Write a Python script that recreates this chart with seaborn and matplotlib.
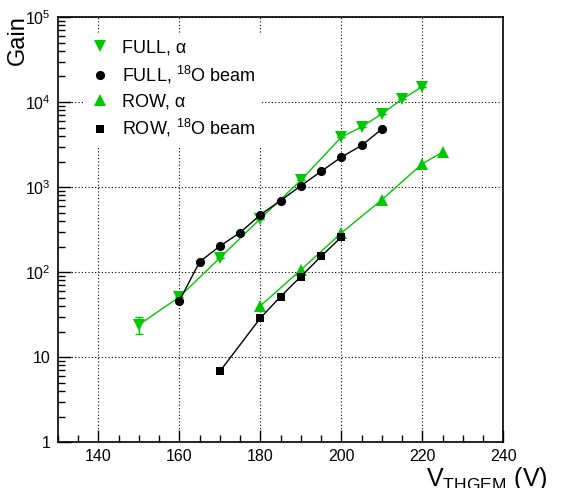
import numpy as np
import pandas as pd
import matplotlib
matplotlib.use("Agg")
import matplotlib.pyplot as plt
from matplotlib.ticker import LogLocator, MultipleLocator, FixedLocator, FixedFormatter, NullFormatter
import seaborn as sns

sns.set_style("ticks")
plt.rcParams["font.family"] = ["Liberation Sans", "DejaVu Sans"]
plt.rcParams["mathtext.fontset"] = "custom"
plt.rcParams["mathtext.rm"] = "Liberation Sans"
plt.rcParams["mathtext.it"] = "Liberation Sans:italic"
for key in ["text.color", "axes.labelcolor", "xtick.color", "ytick.color"]:
    plt.rcParams[key] = "black"

# Gain vs THGEM voltage
full_alpha_v = [150, 160, 170, 180, 190, 200, 205, 210, 215, 220]
full_alpha_gain = [24, 51, 147, 425, 1200, 3870, 5100, 7280, 10800, 15200]
full_alpha_err = [5.5, 0, 0, 0, 0, 0, 0, 0, 0, 0]

full_beam_v = [160, 165, 170, 175, 180, 185, 190, 195, 200, 205, 210]
full_beam_gain = [46, 132, 202, 292, 472, 695, 1035, 1530, 2250, 3090, 4800]

row_alpha_v = [180, 190, 200, 210, 220, 225]
row_alpha_gain = [40, 106, 288, 708, 1880, 2580]

row_beam_v = [170, 180, 185, 190, 195, 200]
row_beam_gain = [6.8, 28.8, 51.6, 88.7, 153, 258]

series_names = ["FULL, α", "FULL, $^{18}$O beam", "ROW, α", "ROW, $^{18}$O beam"]

green = "#00c800"
black = "#000000"

frames = []
for name, v, g in [(series_names[0], full_alpha_v, full_alpha_gain),
                   (series_names[1], full_beam_v, full_beam_gain),
                   (series_names[2], row_alpha_v, row_alpha_gain),
                   (series_names[3], row_beam_v, row_beam_gain)]:
    frames.append(pd.DataFrame({"V": v, "Gain": g, "series": name}))
df = pd.concat(frames, ignore_index=True)

fig = plt.figure(figsize=(5.68, 4.88), dpi=100)
ax = fig.add_axes([0.102, 0.094, 0.784, 0.871])

styles = {
    series_names[0]: dict(color=green, marker="v", ms=8),
    series_names[1]: dict(color=black, marker="o", ms=6.6),
    series_names[2]: dict(color=green, marker="^", ms=8),
    series_names[3]: dict(color=black, marker="s", ms=6.0),
}

for name in series_names:
    st = styles[name]
    sub = df[df["series"] == name]
    sns.lineplot(data=sub, x="V", y="Gain", ax=ax, color=st["color"], lw=1.0,
                 marker=st["marker"], markersize=st["ms"], markeredgewidth=0,
                 markerfacecolor=st["color"], label=name, sort=True, estimator=None,
                 errorbar=None, zorder=3)

# vertical error bars on the alpha FULL series
ax.errorbar(full_alpha_v, full_alpha_gain, yerr=full_alpha_err, fmt="none",
            ecolor=green, elinewidth=1.0, capsize=3, capthick=1.0, zorder=2)

ax.set_yscale("log")
ax.set_xlim(130, 240)
ax.set_ylim(1, 1e5)

ax.xaxis.set_major_locator(MultipleLocator(20))
ax.xaxis.set_minor_locator(MultipleLocator(5))
ax.yaxis.set_major_locator(FixedLocator([1, 10, 100, 1e3, 1e4, 1e5]))
ax.yaxis.set_major_formatter(FixedFormatter(["1", "10", "$10^{2}$", "$10^{3}$", "$10^{4}$", "$10^{5}$"]))
ax.yaxis.set_minor_locator(LogLocator(base=10, subs=np.arange(2, 10), numticks=20))
ax.yaxis.set_minor_formatter(NullFormatter())

ax.tick_params(which="major", direction="in", length=9, width=1, labelsize=11.5,
               top=False, right=False, pad=5)
ax.tick_params(which="minor", direction="in", length=5, width=1, top=False, right=False)
ax.grid(True, which="major", linestyle=(0, (1, 2)), color="black", lw=0.8)
for sp in ax.spines.values():
    sp.set_linewidth(1.2)
    sp.set_color("black")

ax.set_xlabel("")
ax.set_ylabel("")
fig.text(548 / 568, 1 - 486 / 488, "V$_{\\rm THGEM}$ (V)", fontsize=18,
         ha="right", va="baseline")
fig.text(18 / 568, 1 - 40 / 488, "Gain", fontsize=17, rotation=90,
         ha="center", va="center")

leg = ax.legend(loc="upper left", bbox_to_anchor=(84 / 568, 1 - 33 / 488),
                bbox_transform=fig.transFigure, frameon=True,
                fontsize=13, handlelength=1.0, handletextpad=0.72,
                labelspacing=0.4, borderpad=0.36, borderaxespad=0)
leg.get_frame().set_facecolor("white")
leg.get_frame().set_edgecolor("none")
leg.get_frame().set_alpha(1)
leg.get_frame().set_boxstyle("square", pad=0.0)
for h in leg.legend_handles:
    h.set_linestyle("none")
leg.set_zorder(5)

fig.savefig("out.png", dpi=100)
